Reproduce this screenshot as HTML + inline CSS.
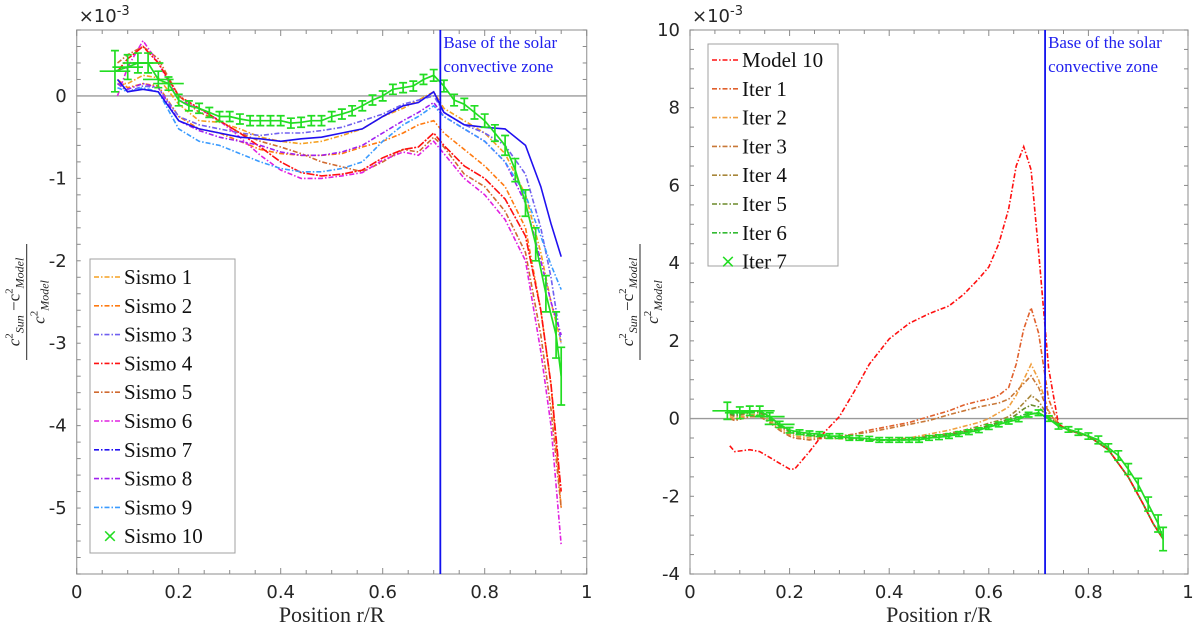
<!DOCTYPE html>
<html><head><meta charset="utf-8"><style>
body{margin:0;background:#fff}
svg{display:block}
.tick{font-family:"DejaVu Sans","Liberation Sans",sans-serif;font-size:18px;fill:#262626}
.ser{font-family:"Liberation Serif",serif}
</style></head><body>
<svg id="fig" width="1200" height="633" viewBox="0 0 1200 633" xmlns="http://www.w3.org/2000/svg">
<g id="left"></g>
<g id="right"></g>
</svg>
<script>
// ---------- LEFT data (units 1e-3) ----------
const LX=[0.08,0.10,0.13,0.16,0.20,0.24,0.28,0.32,0.36,0.40,0.44,0.48,0.52,0.56,0.60,0.64,0.67,0.70,0.72,0.76,0.80,0.84,0.88,0.91,0.93,0.95];
const sismo1=[0.15,0.15,0.25,0.22,-0.1,-0.3,-0.32,-0.4,-0.5,-0.55,-0.58,-0.55,-0.48,-0.4,-0.25,-0.15,-0.05,0.05,-0.15,-0.3,-0.45,-0.7,-1.2,-1.9,-2.5,-3.0];
const sismo2=[0.2,0.1,0.15,0.12,-0.25,-0.4,-0.45,-0.55,-0.65,-0.7,-0.72,-0.72,-0.7,-0.62,-0.55,-0.45,-0.35,-0.3,-0.45,-0.65,-0.85,-1.1,-1.6,-2.6,-3.5,-5.0];
const sismo3=[0.15,0.05,0.12,0.1,-0.25,-0.35,-0.4,-0.45,-0.48,-0.45,-0.45,-0.42,-0.38,-0.3,-0.22,-0.1,-0.05,0.0,-0.2,-0.35,-0.45,-0.6,-0.95,-1.6,-2.2,-3.0];
const sismo4=[0.3,0.45,0.6,0.4,0.0,-0.15,-0.3,-0.45,-0.62,-0.8,-0.93,-0.97,-0.95,-0.9,-0.75,-0.65,-0.62,-0.45,-0.6,-0.85,-1.0,-1.25,-1.7,-2.6,-3.5,-4.8];
const sismo5=[0.4,0.5,0.6,0.45,0.0,-0.2,-0.3,-0.45,-0.55,-0.62,-0.7,-0.8,-0.86,-0.92,-0.8,-0.65,-0.68,-0.5,-0.62,-0.95,-1.1,-1.4,-1.9,-2.9,-3.8,-5.0];
const sismo6=[0.0,0.35,0.67,0.4,-0.05,-0.15,-0.3,-0.5,-0.72,-0.9,-1.0,-1.0,-0.97,-0.93,-0.78,-0.68,-0.72,-0.55,-0.7,-1.0,-1.2,-1.5,-2.0,-3.1,-4.0,-5.45];
const sismo7=[0.2,0.05,0.08,0.05,-0.3,-0.4,-0.45,-0.5,-0.52,-0.55,-0.52,-0.5,-0.45,-0.4,-0.25,-0.12,-0.08,0.05,-0.2,-0.35,-0.38,-0.4,-0.6,-1.1,-1.55,-1.95];
const sismo8=[0.15,0.08,0.15,0.1,-0.3,-0.42,-0.5,-0.55,-0.6,-0.68,-0.72,-0.72,-0.68,-0.6,-0.45,-0.3,-0.2,-0.08,-0.25,-0.4,-0.55,-0.8,-1.3,-2.0,-2.5,-2.9];
const sismo9=[0.1,0.05,0.1,0.05,-0.4,-0.55,-0.6,-0.7,-0.8,-0.88,-0.92,-0.92,-0.88,-0.8,-0.55,-0.35,-0.25,-0.12,-0.25,-0.4,-0.55,-0.8,-1.2,-1.7,-2.05,-2.35];
const GX=[0.075,0.10,0.12,0.14,0.16,0.18,0.20,0.22,0.24,0.26,0.28,0.30,0.32,0.34,0.36,0.38,0.40,0.42,0.44,0.46,0.48,0.50,0.52,0.54,0.56,0.58,0.60,0.62,0.64,0.66,0.68,0.70,0.72,0.74,0.76,0.78,0.80,0.82,0.84,0.86,0.88,0.90,0.92,0.94,0.95];
const sismo10=[0.3,0.35,0.4,0.4,0.2,0.15,-0.05,-0.12,-0.15,-0.2,-0.25,-0.25,-0.28,-0.3,-0.3,-0.3,-0.3,-0.33,-0.32,-0.3,-0.3,-0.25,-0.22,-0.18,-0.12,-0.05,0.0,0.08,0.1,0.12,0.2,0.25,0.12,-0.05,-0.1,-0.2,-0.3,-0.45,-0.6,-0.9,-1.3,-1.8,-2.4,-2.9,-3.4];
const sismo10Err=[0.25,0.15,0.12,0.12,0.1,0.08,0.07,0.06,0.06,0.06,0.06,0.06,0.06,0.06,0.06,0.06,0.06,0.06,0.06,0.06,0.06,0.06,0.06,0.06,0.06,0.06,0.06,0.06,0.06,0.06,0.06,0.07,0.07,0.07,0.07,0.08,0.08,0.1,0.12,0.14,0.16,0.2,0.22,0.28,0.35];
const LYTICKS=[0,-1,-2,-3,-4,-5];
const LXTICKS=[0,0.2,0.4,0.6,0.8,1];
// ---------- RIGHT data ----------
const RX=[0.08,0.09,0.12,0.14,0.16,0.18,0.20,0.21,0.24,0.27,0.30,0.33,0.36,0.40,0.44,0.48,0.52,0.55,0.58,0.60,0.62,0.64,0.655,0.67,0.685,0.70,0.72,0.74,0.76,0.80,0.84,0.88,0.91,0.93,0.95];
const model10=[-0.7,-0.85,-0.8,-0.85,-1.0,-1.15,-1.3,-1.3,-0.85,-0.35,0.05,0.7,1.4,2.05,2.45,2.7,2.9,3.2,3.6,3.9,4.5,5.4,6.5,7.0,6.4,4.3,1.3,-0.15,-0.3,-0.45,-0.8,-1.5,-2.2,-2.7,-3.1];
const iter1=[0.0,-0.05,0.05,0.05,-0.1,-0.3,-0.45,-0.5,-0.55,-0.5,-0.45,-0.4,-0.3,-0.2,-0.1,0.05,0.2,0.35,0.45,0.5,0.6,0.8,1.4,2.3,2.85,2.2,0.5,-0.15,-0.3,-0.45,-0.8,-1.5,-2.2,-2.7,-3.1];
const iter2=[0.05,0.0,0.1,0.1,-0.05,-0.25,-0.4,-0.45,-0.5,-0.5,-0.52,-0.52,-0.55,-0.55,-0.5,-0.4,-0.3,-0.2,-0.1,0.0,0.15,0.3,0.6,1.0,1.4,1.0,0.2,-0.15,-0.3,-0.45,-0.8,-1.5,-2.2,-2.7,-3.1];
const iter3=[0.0,-0.05,0.05,0.05,-0.1,-0.3,-0.45,-0.5,-0.55,-0.5,-0.45,-0.4,-0.35,-0.25,-0.15,-0.05,0.1,0.2,0.3,0.35,0.4,0.5,0.7,0.9,1.1,0.8,0.15,-0.15,-0.3,-0.45,-0.8,-1.5,-2.2,-2.7,-3.1];
const iter4=[0.1,0.05,0.15,0.15,0.0,-0.2,-0.35,-0.4,-0.45,-0.48,-0.5,-0.52,-0.55,-0.55,-0.52,-0.45,-0.38,-0.3,-0.2,-0.12,-0.05,0.05,0.2,0.4,0.6,0.45,0.05,-0.15,-0.3,-0.45,-0.8,-1.5,-2.2,-2.7,-3.1];
const iter5=[0.12,0.08,0.18,0.18,0.02,-0.18,-0.33,-0.38,-0.42,-0.46,-0.5,-0.52,-0.55,-0.56,-0.54,-0.48,-0.42,-0.34,-0.26,-0.18,-0.1,-0.02,0.1,0.25,0.35,0.3,0.02,-0.15,-0.3,-0.45,-0.8,-1.5,-2.2,-2.7,-3.1];
const iter6=[0.15,0.1,0.2,0.2,0.04,-0.16,-0.3,-0.36,-0.4,-0.45,-0.48,-0.5,-0.55,-0.56,-0.55,-0.5,-0.45,-0.38,-0.3,-0.22,-0.14,-0.06,0.02,0.1,0.15,0.12,0.0,-0.15,-0.3,-0.45,-0.8,-1.5,-2.2,-2.7,-3.1];
const iter7=[0.2,0.15,0.2,0.2,0.05,-0.15,-0.3,-0.35,-0.38,-0.4,-0.45,-0.45,-0.5,-0.5,-0.52,-0.55,-0.55,-0.55,-0.55,-0.55,-0.5,-0.48,-0.45,-0.4,-0.35,-0.3,-0.22,-0.15,-0.08,-0.02,0.1,0.15,0.0,-0.2,-0.28,-0.35,-0.45,-0.55,-0.75,-0.95,-1.3,-1.7,-2.2,-2.7,-3.1];
const iter7Err=[0.22,0.15,0.12,0.12,0.1,0.08,0.07,0.06,0.06,0.06,0.06,0.06,0.06,0.06,0.06,0.06,0.06,0.06,0.06,0.06,0.06,0.06,0.06,0.06,0.06,0.06,0.06,0.06,0.06,0.06,0.06,0.07,0.07,0.07,0.07,0.08,0.08,0.1,0.1,0.12,0.14,0.16,0.18,0.22,0.3];
const RYTICKS=[10,8,6,4,2,0,-2,-4];
const RXTICKS=[0,0.2,0.4,0.6,0.8,1];

const NS='http://www.w3.org/2000/svg';
const SERIF='font-family:"Liberation Serif",serif;';
function mk(parent,tag,attrs,text){const e=document.createElementNS(NS,tag);for(const k in attrs)e.setAttribute(k,attrs[k]);if(text!==undefined)e.textContent=text;parent.appendChild(e);return e;}

function panel(g,P){
  const sx=r=>P.x0+(r-P.xmin)/(P.xmax-P.xmin)*(P.x1-P.x0);
  const sy=v=>P.y1-(v-P.ymin)/(P.ymax-P.ymin)*(P.y1-P.y0);
  const box=mk(g,'rect',{x:P.x0,y:P.y0,width:P.x1-P.x0,height:P.y1-P.y0,fill:'#fff',stroke:'#a0a0a0','stroke-width':1.2});
  
  
  for(let v=P.xmin;v<=P.xmax+1e-9;v+=P.xminor){const X=sx(v);const big=Math.abs(v/0.2-Math.round(v/0.2))<1e-6;const L=big?6:4;
    mk(g,'line',{x1:X,x2:X,y1:P.y1,y2:P.y1-L,stroke:'#8a8a8a'});mk(g,'line',{x1:X,x2:X,y1:P.y0,y2:P.y0+L,stroke:'#8a8a8a'});}
  for(let v=P.ymin;v<=P.ymax+1e-9;v+=P.yminor){const Y=sy(v);
    mk(g,'line',{x1:P.x0,x2:P.x0+4,y1:Y,y2:Y,stroke:'#8a8a8a'});mk(g,'line',{x1:P.x1,x2:P.x1-4,y1:Y,y2:Y,stroke:'#8a8a8a'});}
  P.xt.forEach(v=>{const t=mk(g,'text',{x:sx(v),y:P.y1+24,'text-anchor':'middle',class:'tick'},String(v));
    
    });
  P.yt.forEach(v=>{const t=mk(g,'text',{x:P.x0-10,y:sy(v)+6,'text-anchor':'end',class:'tick'},String(v));
    
    });
  const z=mk(g,'line',{x1:P.x0,x2:P.x1,y1:sy(0),y2:sy(0),stroke:'#9a9a9a','stroke-width':1.3});
  
  
  const ex=mk(g,'text',{x:P.x0+2,y:P.y0-8,class:'tick','font-size':'17'},'×10');
  
  
  mk(ex,'tspan',{dy:-7,'font-size':'13'},'-3');
  const xl=mk(g,'text',{x:(P.x0+P.x1)/2,y:P.y1+48,'text-anchor':'middle',style:SERIF+'font-size:22px;fill:#262626'},'Position r/R');
  
  
  const yg=mk(g,'g',{transform:`translate(${P.x0-50},${(P.y0+P.y1)/2}) rotate(-90)`});
  
  
  const ST=SERIF+'font-size:17px;font-style:italic;fill:#262626';
  const num=mk(yg,'text',{x:0,y:-7,'text-anchor':'middle',style:ST});
  mk(num,'tspan',{},'c');mk(num,'tspan',{dy:-7,'font-size':'11','font-style':'normal'},'2');mk(num,'tspan',{dy:11,'font-size':'12'},'Sun');
  mk(num,'tspan',{dy:-4,'font-style':'normal'},' −c');mk(num,'tspan',{dy:-7,'font-size':'11','font-style':'normal'},'2');mk(num,'tspan',{dy:11,'font-size':'12'},'Model');
  mk(yg,'line',{x1:-58,x2:58,y1:0,y2:0,stroke:'#262626','stroke-width':1});
  const den=mk(yg,'text',{x:0,y:18,'text-anchor':'middle',style:ST});
  mk(den,'tspan',{},'c');mk(den,'tspan',{dy:-7,'font-size':'11','font-style':'normal'},'2');mk(den,'tspan',{dy:11,'font-size':'12'},'Model');
  P.series.forEach(s=>{
    const d=s.y.map((v,i)=>(i?'L':'M')+sx(s.x[i]).toFixed(1)+','+sy(v).toFixed(1)).join('');
    const p=mk(g,'path',{d:d,fill:'none',stroke:s.c,'stroke-width':1.6,'stroke-dasharray':s.dash||'none'});
    
    
  });
  const E=P.err;
  const eg=mk(g,'g',{stroke:'#22dd22','stroke-width':1.7,fill:'none'});
  
  
  let d='';
  E.y.forEach((v,i)=>{const X=sx(E.x[i]);d+=(i?'L':'M')+X.toFixed(1)+','+sy(v).toFixed(1);});
  mk(eg,'path',{d:d});
  E.y.forEach((v,i)=>{const X=sx(E.x[i]),Yt=sy(v+E.e[i]),Yb=sy(v-E.e[i]);
    const b=mk(eg,'path',{d:`M${X},${Yt}L${X},${Yb}M${X-4},${Yt}L${X+4},${Yt}M${X-4},${Yb}L${X+4},${Yb}`});
    
    
    if(i<6){mk(eg,'path',{d:`M${sx(E.x[i]-0.03)},${sy(v)}L${sx(E.x[i]+0.03)},${sy(v)}`});}
  });
  const bx=sx(0.713);
  const vl=mk(g,'line',{x1:bx,x2:bx,y1:P.y0,y2:P.y1,stroke:'#1010ee','stroke-width':1.8});
  
  
  const an=mk(g,'text',{x:bx+3,y:P.y0+18,style:SERIF+'font-size:17px;fill:#2020ee'});
  
  
  mk(an,'tspan',{x:bx+3},'Base of the solar');mk(an,'tspan',{x:bx+3,dy:24},'convective zone');
  const L=P.leg;
  const lg=mk(g,'g',{});
  
  
  mk(lg,'rect',{x:L.x,y:L.y,width:L.w,height:L.h,fill:'#fff',stroke:'#a0a0a0'});
  L.items.forEach((it,i)=>{const cy=L.y+L.first+i*L.step;
    const e=mk(lg,'g',{});
    
    
    if(it.x){mk(e,'text',{x:L.x+20,y:cy+6,'text-anchor':'middle',style:'font-family:"DejaVu Sans",sans-serif;font-size:19px;fill:#22dd22'},'×');}
    else mk(e,'line',{x1:L.x+4,x2:L.x+30,y1:cy,y2:cy,stroke:it.c,'stroke-width':1.6,'stroke-dasharray':it.dash||'none'});
    mk(e,'text',{x:L.x+34,y:cy+7,style:SERIF+'font-size:21px;fill:#111'},it.t);
  });
}
const DD='5,2,1.5,2';
panel(document.getElementById('left'),{x0:76.7,x1:586.7,y0:30,y1:574,xmin:0,xmax:1,ymin:-5.8,ymax:0.8,xminor:0.05,yminor:0.2,xt:LXTICKS,yt:LYTICKS,
  series:[
   {id:'sismo-1-line',x:LX,y:sismo1,c:'#f5a020',dash:DD},
   {id:'sismo-2-line',x:LX,y:sismo2,c:'#ff7a10',dash:DD},
   {id:'sismo-3-line',x:LX,y:sismo3,c:'#7060f0',dash:DD},
   {id:'sismo-5-line',x:LX,y:sismo5,c:'#d06a30',dash:DD},
   {id:'sismo-6-line',x:LX,y:sismo6,c:'#e020e0',dash:DD},
   {id:'sismo-4-line',x:LX,y:sismo4,c:'#ff1010',dash:'8,1.5,2,1.5'},
   {id:'sismo-8-line',x:LX,y:sismo8,c:'#a020f0',dash:DD},
   {id:'sismo-9-line',x:LX,y:sismo9,c:'#3a9bff',dash:DD},
   {id:'sismo-7-line',x:LX,y:sismo7,c:'#2010f0'}],
  err:{id:'sismo-10-points',x:GX,y:sismo10,e:sismo10Err},
  leg:{x:90,y:259,w:145,h:294,first:18,step:28.8,items:[
   {t:'Sismo 1',c:'#f5a020',dash:DD},{t:'Sismo 2',c:'#ff7a10',dash:DD},{t:'Sismo 3',c:'#7060f0',dash:DD},{t:'Sismo 4',c:'#ff1010',dash:DD},
   {t:'Sismo 5',c:'#d06a30',dash:DD},{t:'Sismo 6',c:'#e020e0',dash:DD},{t:'Sismo 7',c:'#2010f0',dash:DD},{t:'Sismo 8',c:'#a020f0',dash:DD},
   {t:'Sismo 9',c:'#3a9bff',dash:DD},{t:'Sismo 10',x:true}]}});
panel(document.getElementById('right'),{x0:690,x1:1188,y0:30,y1:574,xmin:0,xmax:1,ymin:-4,ymax:10,xminor:0.05,yminor:0.5,xt:RXTICKS,yt:RYTICKS,
  series:[
   {id:'iter-1-line',x:RX,y:iter1,c:'#e0602c',dash:DD},
   {id:'iter-2-line',x:RX,y:iter2,c:'#f0a040',dash:DD},
   {id:'iter-3-line',x:RX,y:iter3,c:'#c87838',dash:DD},
   {id:'iter-4-line',x:RX,y:iter4,c:'#a8863a',dash:DD},
   {id:'iter-5-line',x:RX,y:iter5,c:'#6b8a2a',dash:DD},
   {id:'iter-6-line',x:RX,y:iter6,c:'#33bb33',dash:DD},
   {id:'model-10-line',x:RX,y:model10,c:'#ff1010',dash:DD}],
  err:{id:'iter-7-points',x:GX,y:iter7,e:iter7Err},
  leg:{x:708,y:44,w:130,h:222,first:16,step:28.8,items:[
   {t:'Model 10',c:'#ff1010',dash:DD},{t:'Iter 1',c:'#e0602c',dash:DD},{t:'Iter 2',c:'#f0a040',dash:DD},{t:'Iter 3',c:'#c87838',dash:DD},
   {t:'Iter 4',c:'#a8863a',dash:DD},{t:'Iter 5',c:'#6b8a2a',dash:DD},{t:'Iter 6',c:'#33bb33',dash:DD},{t:'Iter 7',x:true}]}});
</script>
</body></html>
